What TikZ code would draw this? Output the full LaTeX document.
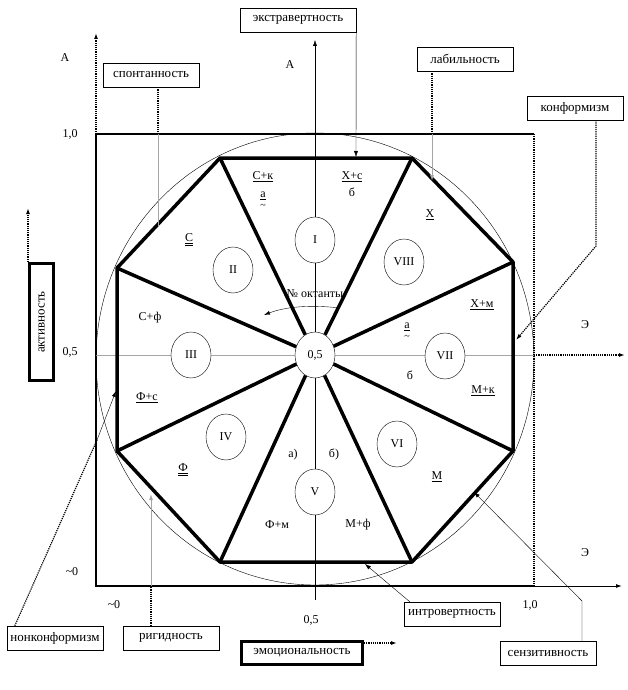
\documentclass[tikz,border=0pt]{standalone}
\usepackage{fontspec}
\setmainfont{Liberation Serif}
\usetikzlibrary{shapes.geometric,arrows.meta}

\begin{document}
\begin{tikzpicture}[x=1pt,y=-1pt,
    every node/.style={font=\fontsize{12}{14}\selectfont},
    oct/.style={draw,ellipse,fill=white,minimum width=40pt,minimum height=46pt,inner sep=0pt},
    lbl/.style={draw,fill=white,minimum width=96pt,minimum height=24pt,inner sep=1pt,font=\fontsize{13}{15}\selectfont},
    thickbox/.style={lbl,line width=3pt},
    octline/.style={line width=3.5pt,line join=round},
    arr/.style={-{Latex[length=6pt,width=4pt]}},
    dotline/.style={densely dotted,line width=1.2pt},
    small/.style={font=\fontsize{10}{10}\selectfont,inner sep=0pt}]
\useasboundingbox (0,0) rectangle (627,690);

\coordinate (O) at (96,586);
\coordinate (Atop) at (96,33);
\coordinate (Acorner) at (96,134);
\coordinate (TR) at (534,134);
\coordinate (Ecorner) at (534,586);
\coordinate (Eend) at (622,586);
\coordinate (Mleft) at (96,355);
\coordinate (Mright) at (534,355);
\coordinate (Mend) at (625,355);
\coordinate (Vbot) at (315,600);
\coordinate (Vtop) at (315,40);

\draw[line width=2.5pt] (Acorner) -- (O) -- (Ecorner);
\draw[line width=2pt] (Acorner) -- (TR);
\draw[arr,line width=1pt] (Ecorner) -- (Eend);
\draw[dotline,arr] (Acorner) -- (Atop);
\draw[dotline] (TR) -- (Ecorner);
\draw[gray!70,line width=1pt] (Mleft) -- (Mright);
\draw[dotline,arr] (Mright) -- (Mend);
\draw[arr] (Vbot) -- (Vtop);

\draw (315,359) ellipse [x radius=219pt, y radius=226pt];

\coordinate (v1) at (220,158);
\coordinate (v2) at (412,158);
\coordinate (v3) at (513,262);
\coordinate (v4) at (513,451);
\coordinate (v5) at (412,562);
\coordinate (v6) at (220,562);
\coordinate (v7) at (117,451);
\coordinate (v8) at (117,268);
\draw[octline] (v1) -- (v2) -- (v3) -- (v4) -- (v5) -- (v6) -- (v7) -- (v8) -- cycle;

\node[oct] (c) at (315,355) {0,5};
\node[oct] (o1) at (315,240) {I};
\node[oct] (o2) at (233,270) {II};
\node[oct] (o3) at (191,355) {III};
\node[oct] (o4) at (226,437) {IV};
\node[oct] (o5) at (315,492) {V};
\node[oct] (o6) at (397,444) {VI};
\node[oct] (o7) at (445,356) {VII};
\node[oct] (o8) at (404,262) {VIII};
\foreach \i in {1,...,8}
    \draw[octline] (c) -- (v\i);

\node (ck) at (263,177) {\underline{С+к}};
\node (a1) at (263,196) {\underline{а}};
\node[small] (t1) at (263,206) {\textasciitilde};
\node (xc) at (352,177) {\underline{Х+с}};
\node (b1) at (352,192) {б};
\node (s) at (189,240) {\underline{\underline{С}}};
\node (x) at (430,215) {\underline{Х}};
\node (cf) at (150,318) {С+ф};
\node (num) at (315,294) {№ октанты};
\coordinate (numStart) at (340,308);
\coordinate (numTip) at (264,315);
\draw[arr] (numStart) .. controls (305,304) and (282,308) .. (numTip);
\node (xm) at (482,305) {\underline{Х+м}};
\node (a2) at (407,327) {\underline{а}};
\node[small] (t2) at (407,337) {\textasciitilde};
\node (b2) at (410,375) {б};
\node (mk) at (483,391) {\underline{М+к}};
\node (fc) at (147,398) {\underline{Ф+с}};
\node (f) at (183,470) {\underline{\underline{Ф}}};
\node (a3) at (293,455) {а)};
\node (b3) at (334,454) {б)};
\node (fm) at (277,525) {Ф+м};
\node (mf) at (358,525) {М+ф};
\node (m) at (437,477) {\underline{М}};

\node (axA) at (65,58) {А};
\node (axA2) at (290,65) {А};
\node (y10) at (70,134) {1,0};
\node (y05) at (70,352) {0,5};
\node (y0) at (72,572) {\textasciitilde0};
\node (x0) at (114,605) {\textasciitilde0};
\node (x05) at (311,620) {0,5};
\node (x10) at (530,605) {1,0};
\node (axE) at (585,553) {Э};
\node (axE2) at (585,325) {Э};

\node[lbl,minimum width=116pt] (extra) at (298,20) {экстравертность};
\coordinate (extraTip) at (356,157);
\draw[arr] (extra.south east) -- (extraTip);

\node[lbl] (spont) at (151,75) {спонтанность};
\coordinate (spontMid) at (158,134);
\coordinate (spontTip) at (158,226);
\draw[dotline] (spont.south -| spontMid) -- (spontMid);
\draw[gray!70,line width=1pt] (spontMid) -- (spontTip);

\node[lbl] (labil) at (465,59) {лабильность};
\coordinate (labilMid) at (432,134);
\coordinate (labilTip) at (432,181);
\draw[dotline] (labil.south -| labilMid) -- (labilMid);
\draw[gray!70,line width=1pt,arr] (labilMid) -- (labilTip);

\node[lbl] (konf) at (575,108) {конформизм};
\coordinate (konfBend) at (596,246);
\coordinate (konfTip) at (516,340);
\draw[dotline,arr] (konf.south -| konfBend) -- (konfBend) -- (konfTip);

\node[lbl] (nonk) at (55,638) {нонконформизм};
\coordinate (nonkBend) at (97,440);
\coordinate (nonkTip) at (116,391);
\draw[dotline] ([xshift=8pt]nonk.north west) -- (nonkBend);
\draw[arr] (nonkBend) -- (nonkTip);

\node[lbl] (rigid) at (171,638) {ригидность};
\coordinate (rigidMid) at (151,586);
\coordinate (rigidTip) at (151,494);
\draw[dotline] (rigid.north -| rigidMid) -- (rigidMid);
\draw[gray!70,line width=1pt,arr] (rigidMid) -- (rigidTip);

\node[thickbox,minimum width=121pt,minimum height=23pt] (emo) at (302,653) {эмоциональность};
\coordinate (emoTip) at (397,643);
\draw[dotline,arr] (emoTip -| emo.east) -- (emoTip);

\node[lbl] (intro) at (452,614) {интровертность};
\coordinate (introTip) at (365,564);
\draw[arr] ([xshift=6pt]intro.north west) -- (introTip);

\node[lbl] (sens) at (548,653) {сензитивность};
\coordinate (sensBend) at (582,601);
\coordinate (sensTip) at (474,492);
\draw[arr] (sens.north -| sensBend) -- (sensBend) -- (sensTip);

\node[thickbox,minimum width=24pt,minimum height=117pt] (akt) at (41.5,322) {\rotatebox{90}{активность}};
\coordinate (aktTip) at (28,208);
\draw[dotline,arr] (aktTip |- akt.north) -- (aktTip);
\end{tikzpicture}
\end{document}
